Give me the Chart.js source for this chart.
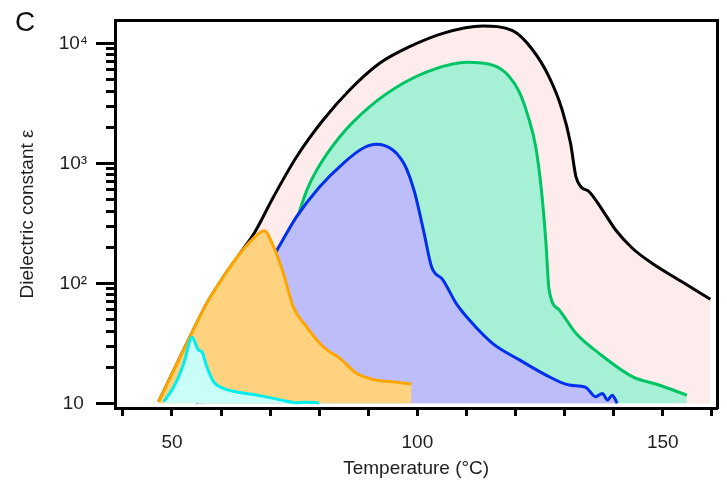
<!DOCTYPE html>
<html><head><meta charset="utf-8">
<script src="https://cdn.jsdelivr.net/npm/chart.js@4"></script>
<style>html,body{margin:0;padding:0;background:#fff}#wrap{width:727px;height:486px}</style>
</head><body><div id="wrap"><canvas id="c" width="727" height="486"></canvas></div>
<script>
// ---- data ----
const blackT = [47.3, 50.4, 53.7, 57.1, 60.5, 63.9, 66.9, 70.7, 75.4, 80.8, 86.2, 92.3, 98.4, 105.2, 113.3, 119.4, 123.5, 126.8, 129.5, 131.2, 132.3, 133.3, 135.0, 137.7, 140.4, 143.8, 147.8, 153.9, 159.7];
const blackE = [10.3, 18.9, 35.9, 68, 113, 178, 268, 527, 1135, 2296, 4084, 6813, 9370, 12110, 13930, 12740, 8793, 5270, 2782, 1468, 773, 638, 580, 408, 278, 196, 147, 103, 73.6];

const greenT = [56, 63, 69, 72.5, 75.4, 76.0, 77.5, 79.5, 84.2, 90.3, 97.1, 103.5, 110.0, 115.5, 118.7, 120.8, 122.5, 124.1, 125.3, 126.2, 126.8, 128.9, 132.3, 137.0, 143.8, 149.2, 154.9];
const greenE = [10, 40, 110, 200, 340, 400, 600, 880, 1667, 2965, 4642, 6100, 6950, 6550, 5300, 3900, 2500, 1380, 580, 215, 90, 60, 38.3, 26.1, 16.7, 14.2, 11.7];

const blueT = [55, 62, 68, 71.4, 75.4, 80.1, 84.9, 88.9, 91.7, 95.0, 96.6, 97.8, 99.4, 101.3, 102.9, 105.2, 107.9, 110.6, 115.3, 120.8, 126.2, 130.9, 134.3, 136.3, 137.7, 138.7, 139.7, 140.7];
const blueE = [10, 40, 110, 189, 359, 638, 1000, 1334, 1439, 1291, 1100, 900, 580, 270, 137, 107, 68, 49.4, 31.6, 23, 17.2, 14.2, 13.6, 11.35, 12.1, 10.65, 11.7, 10];

const orangeT = [47.3, 50.4, 53.7, 57.1, 60.5, 63.9, 66.6, 68.8, 70.7, 72.7, 74.7, 77.4, 80.8, 84.2, 87.6, 91.0, 95.0, 98.8];
const orangeE = [10.3, 18.9, 35.9, 68.1, 113.5, 178, 237, 274, 202, 121, 63.8, 43.5, 29.6, 23.7, 17.8, 15.8, 15.1, 14.5];

const cyanT = [48.3, 50.4, 52.4, 54.1, 55.4, 56.1, 57.1, 58.5, 60.5, 63.9, 67.3, 70.7, 73.4, 75.4, 77.0, 80.0];
const cyanE = [10.3, 13.8, 21.5, 35.5, 27.8, 26.9, 20.2, 15.1, 13.3, 12.3, 11.7, 11.0, 10.4, 10.1, 10.2, 10.1];

// ---- axes / ticks ----
const xMin = 38.4, xMax = 161.1;
const yMin = 9.14, yMax = 15640;
const fillBase = 10;
const xTicks = [40, 50, 60, 70, 80, 90, 100, 110, 120, 130, 140, 150, 160];
const xLabeled = [50, 100, 150];
const yMajorTicks = [10, 100, 1000, 10000];
const yMajorLabels = ['10', '10²', '10³', '10⁴'];
const yMinorTicks = [20, 30, 40, 50, 60, 70, 80, 90, 200, 300, 400, 500, 600, 700, 800, 900, 2000, 3000, 4000, 5000, 6000, 7000, 8000, 9000];
const panelLabel = 'C';
const xTitle = 'Temperature (°C)';
const yTitle = 'Dielectric constant ε';

function pts(T, E) { return T.map((t, i) => ({ x: t, y: E[i] })); }
function series(T, E, line, fill) {
  return { data: pts(T, E), borderColor: line, backgroundColor: fill, borderWidth: 3,
    pointRadius: 0, fill: { value: fillBase }, cubicInterpolationMode: 'monotone' };
}

Chart.defaults.font.family = "'Liberation Sans', Arial, 'DejaVu Sans', sans-serif";
Chart.defaults.font.size = 19;
Chart.defaults.color = '#1e1e1e';

const panelPlugin = {
  id: 'panelLabel',
  afterDraw(chart) {
    const ctx = chart.ctx;
    ctx.save();
    ctx.font = "28px 'Liberation Sans', Arial, sans-serif";
    ctx.fillStyle = '#111';
    ctx.textBaseline = 'alphabetic';
    ctx.fillText(panelLabel, 15, 31);
    ctx.restore();
  }
};

const tickGrid = (len) => ({ drawOnChartArea: false, drawTicks: true, tickLength: len, tickWidth: 3, tickColor: '#000' });

new Chart(document.getElementById('c'), {
  type: 'line',
  data: {
    datasets: [
      series(cyanT, cyanE, '#00eeee', '#c8fdf8'),
      series(orangeT, orangeE, '#ffa500', '#fed27e'),
      series(blueT, blueE, '#0030ee', '#bdbdfa'),
      series(greenT, greenE, '#00c464', '#a6f0d5'),
      series(blackT, blackE, '#000000', '#fdeceb')
    ]
  },
  options: {
    responsive: false,
    animation: false,
    layout: { padding: { left: 0, right: 9, top: 20, bottom: 0 } },
    plugins: { legend: { display: false }, tooltip: { enabled: false }, filler: { propagate: false } },
    scales: {
      x: {
        type: 'linear', axis: 'x', position: 'bottom', min: xMin, max: xMax,
        afterBuildTicks: s => { s.ticks = xTicks.map(v => ({ value: v })); },
        afterFit: s => { s.height = 78; },
        ticks: { autoSkip: false, maxRotation: 0, padding: 15, callback: v => xLabeled.includes(v) ? String(v) : '' },
        grid: tickGrid(8),
        border: { display: true, color: '#000', width: 3 },
        title: { display: true, text: xTitle, padding: { top: 0, bottom: 6 } }
      },
      x2: {
        type: 'linear', axis: 'x', position: 'top', min: xMin, max: xMax,
        afterFit: s => { s.height = 0; },
        ticks: { display: false },
        grid: { drawOnChartArea: false, drawTicks: false },
        border: { display: true, color: '#000', width: 3 }
      },
      y: {
        type: 'logarithmic', axis: 'y', position: 'left', min: yMin, max: yMax, weight: 2,
        afterBuildTicks: s => { s.ticks = yMajorTicks.map(v => ({ value: v, major: true })); },
        afterFit: s => { s.width = 115; },
        ticks: { autoSkip: false, padding: 8, crossAlign: 'center',
          callback: v => { const i = yMajorTicks.indexOf(v); return i >= 0 ? yMajorLabels[i] : ''; } },
        grid: tickGrid(19),
        border: { display: true, color: '#000', width: 3 },
        title: { display: true, text: yTitle, padding: { top: 16, bottom: 0 } }
      },
      yMinor: {
        type: 'logarithmic', axis: 'y', position: 'left', min: yMin, max: yMax, weight: 1,
        afterBuildTicks: s => { s.ticks = yMinorTicks.map(v => ({ value: v })); },
        afterFit: s => { s.width = 0; },
        ticks: { display: false, autoSkip: false },
        grid: tickGrid(9),
        border: { display: false }
      },
      y2: {
        type: 'linear', axis: 'y', position: 'right', min: 0, max: 1,
        afterFit: s => { s.width = 0; },
        ticks: { display: false },
        grid: { drawOnChartArea: false, drawTicks: false },
        border: { display: true, color: '#000', width: 3 }
      }
    }
  },
  plugins: [panelPlugin]
});
</script>
</body></html>
